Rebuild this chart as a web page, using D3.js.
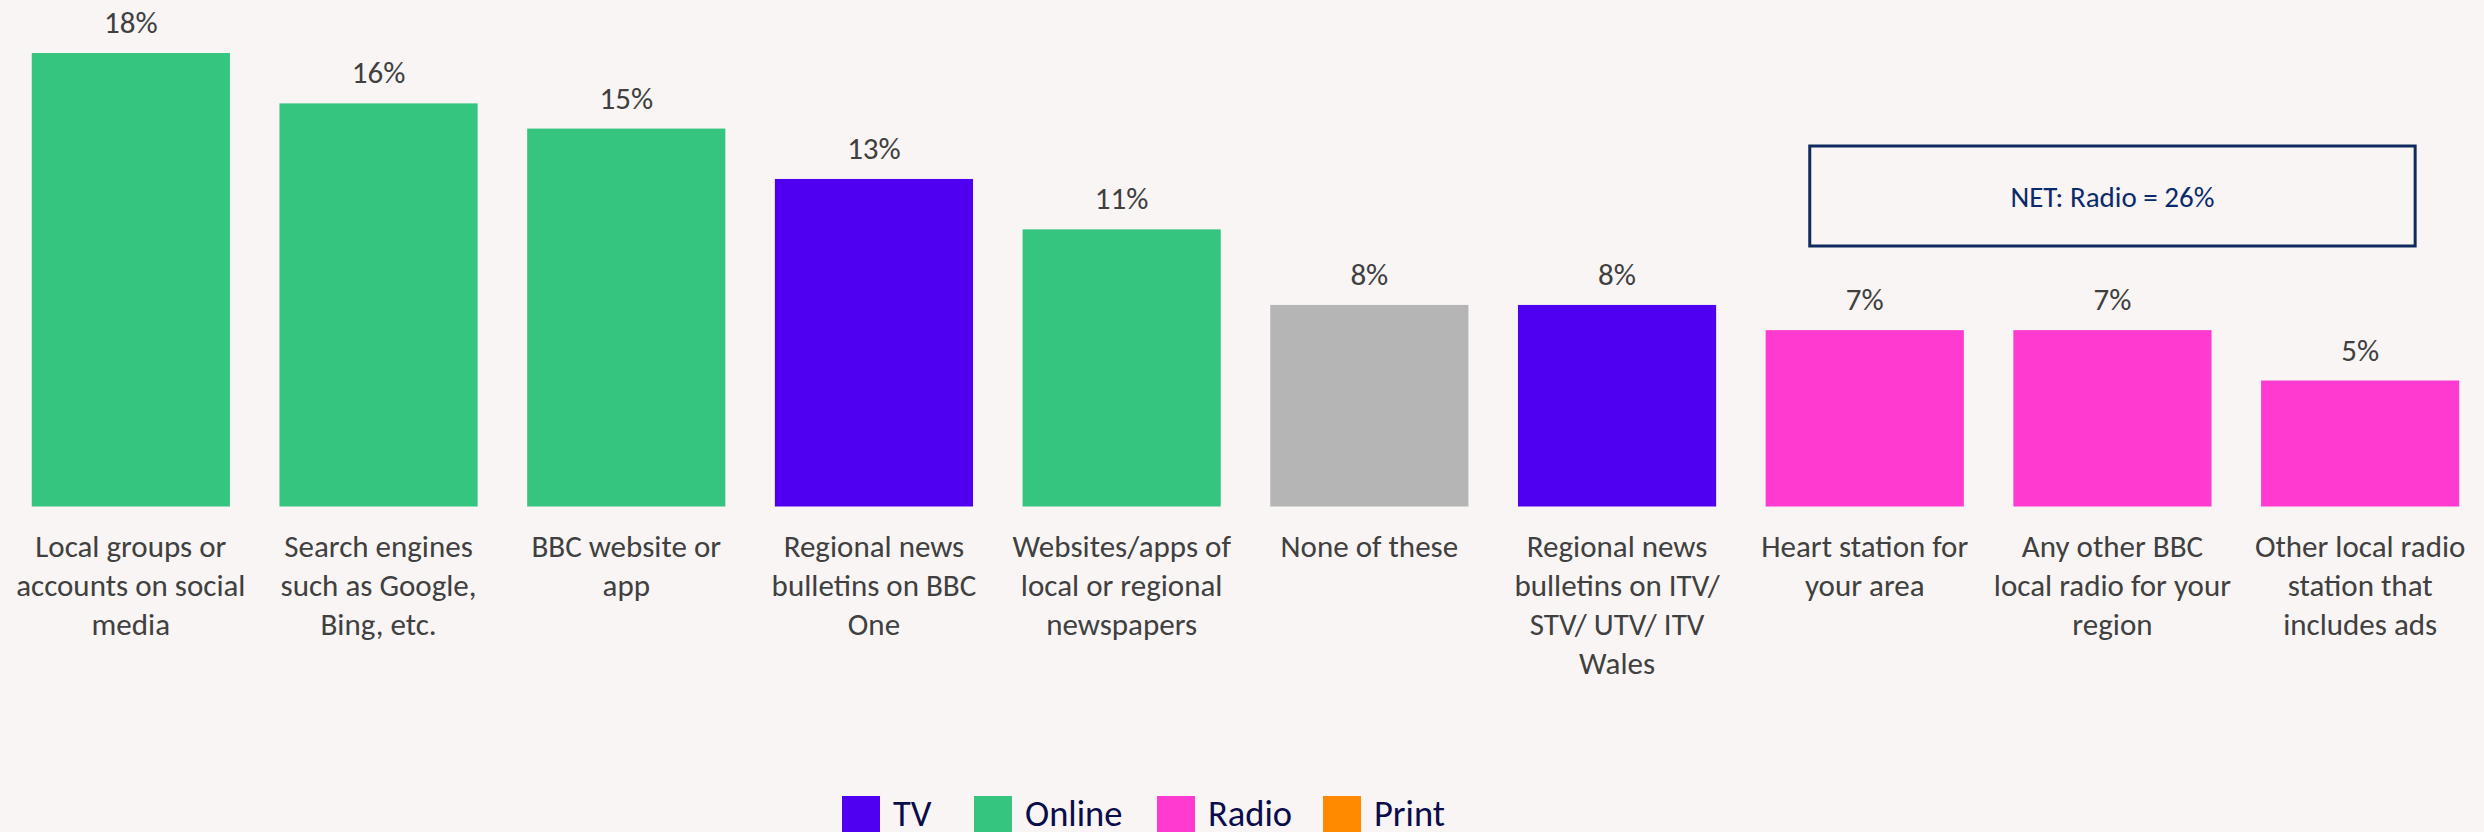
<!DOCTYPE html>
<html>
<head>
<meta charset="utf-8">
<script src="https://cdn.jsdelivr.net/npm/d3@7"></script>
<style>
  html, body { margin: 0; padding: 0; background: #f8f5f4; overflow: hidden; }
  svg { display: block; font-family: Carlito, "Liberation Sans Narrow", "DejaVu Sans Condensed", "Open Sans", sans-serif; }
</style>
</head>
<body>
<div id="chart"></div>
<script>
// category labels, already broken into lines as in the source slide
const categories = [
  ["Local groups or", "accounts on social", "media"],
  ["Search engines", "such as Google,", "Bing, etc."],
  ["BBC website or", "app"],
  ["Regional news", "bulletins on BBC", "One"],
  ["Websites/apps of", "local or regional", "newspapers"],
  ["None of these"],
  ["Regional news", "bulletins on ITV/", "STV/ UTV/ ITV", "Wales"],
  ["Heart station for", "your area"],
  ["Any other BBC", "local radio for your", "region"],
  ["Other local radio", "station that", "includes ads"]
];
const values = [18, 16, 15, 13, 11, 8, 8, 7, 7, 5];
const mediaType = ["Online", "Online", "Online", "TV", "Online", "None", "TV", "Radio", "Radio", "Radio"];

const legendKeys = ["TV", "Online", "Radio", "Print"];
const typeColors = ["#5000f1", "#35c57f", "#ff3ad0", "#ff8a00", "#b5b5b5"];
const netLabel = "NET: Radio = 26%";

const width = 2484, height = 832;
const baseY = 506.5, topY = 53;

const svg = d3.select("#chart").append("svg")
    .attr("width", width).attr("height", height);

svg.append("rect").attr("width", width).attr("height", height).attr("fill", "#f8f5f4");

const idx = d3.range(values.length);
const x = d3.scaleBand().domain(idx).range([7, width]).paddingInner(0.2).paddingOuter(0.1);
const y = d3.scaleLinear().domain([0, d3.max(values)]).range([baseY, topY]);
const color = d3.scaleOrdinal(legendKeys.concat(["None"]), typeColors);

// bars
svg.append("g").selectAll("rect").data(idx).join("rect")
    .attr("x", i => x(i))
    .attr("y", i => y(values[i]))
    .attr("width", x.bandwidth())
    .attr("height", i => y(0) - y(values[i]))
    .attr("fill", i => color(mediaType[i]));

// value labels
svg.append("g").selectAll("text").data(idx).join("text")
    .attr("x", i => x(i) + x.bandwidth() / 2)
    .attr("y", i => y(values[i]) - 20)
    .attr("text-anchor", "middle")
    .attr("font-size", 31)
    .attr("fill", "#404040")
    .text(i => values[i] + "%");

// category labels
const cat = svg.append("g").selectAll("text").data(idx).join("text")
    .attr("text-anchor", "middle")
    .attr("font-size", 31)
    .attr("fill", "#404040");
cat.each(function(i) {
    const t = d3.select(this);
    categories[i].forEach((line, k) => {
        t.append("tspan")
            .attr("x", x(i) + x.bandwidth() / 2)
            .attr("y", 556.7 + k * 39.2)
            .text(line);
    });
});

// NET box over the radio bars
const radioIdx = idx.filter(i => mediaType[i] === "Radio");
const bx0 = x(radioIdx[0]) + x.bandwidth() / 2 - 55;
const bx1 = x(radioIdx[radioIdx.length - 1]) + x.bandwidth() / 2 + 55;
svg.append("rect")
    .attr("x", bx0).attr("y", 146)
    .attr("width", bx1 - bx0).attr("height", 100)
    .attr("fill", "none").attr("stroke", "#102a5e").attr("stroke-width", 3);
svg.append("text")
    .attr("x", (bx0 + bx1) / 2).attr("y", 206.7)
    .attr("text-anchor", "middle")
    .attr("font-size", 29)
    .attr("fill", "#0c2a6b")
    .text(netLabel);

// legend
const legendX = [842, 974, 1157, 1323];
const lg = svg.append("g").selectAll("g").data(legendKeys).join("g")
    .attr("transform", (d, i) => `translate(${legendX[i]},796)`);
lg.append("rect").attr("width", 38).attr("height", 40).attr("fill", d => color(d));
lg.append("text")
    .attr("x", 51).attr("y", 30)
    .attr("font-size", 36.5)
    .attr("fill", "#0b0c4a")
    .text(d => d);
</script>
</body>
</html>
